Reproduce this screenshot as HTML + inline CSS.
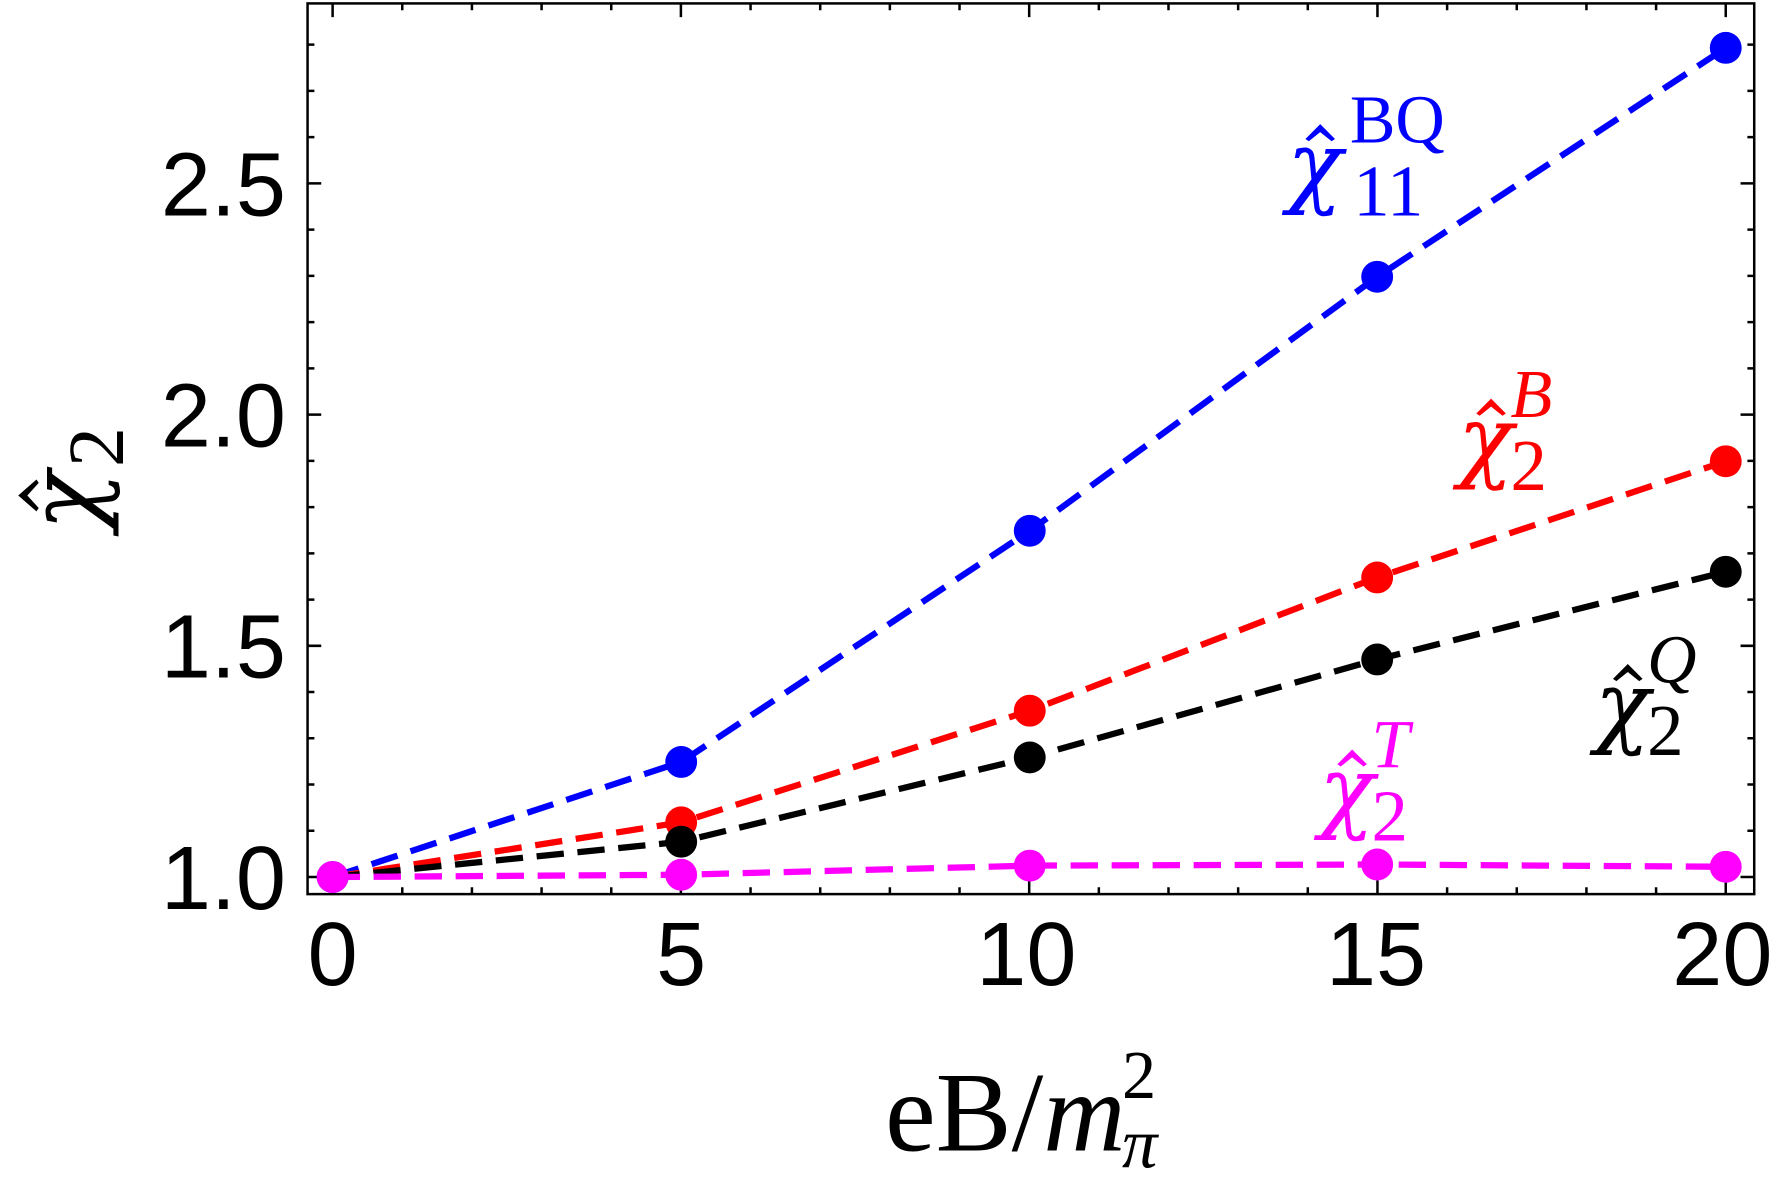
<!DOCTYPE html>
<html><head><meta charset="utf-8"><style>
html,body{margin:0;padding:0;background:#fff;overflow:hidden}
svg{display:block}
</style></head><body>
<svg width="1777" height="1180" viewBox="0 0 1560 1036" preserveAspectRatio="none" xmlns="http://www.w3.org/2000/svg">
<rect x="0" y="0" width="1560" height="1036" fill="#fff"/>
<g stroke="#000" stroke-width="2.2" fill="none">
<rect x="270" y="3" width="1270" height="782"/>
<path d="
M292,785v-12 M353.15,785v-6 M414.3,785v-6 M475.45,785v-6 M536.6,785v-6 M597.75,785v-12 M658.9,785v-6 M720.05,785v-6 M781.2,785v-6 M842.35,785v-6 M903.5,785v-12 M964.65,785v-6 M1025.8,785v-6 M1086.95,785v-6 M1148.1,785v-6 M1209.25,785v-12 M1270.4,785v-6 M1331.55,785v-6 M1392.7,785v-6 M1453.85,785v-6 M1515,785v-12
M292,3v12 M353.15,3v6 M414.3,3v6 M475.45,3v6 M536.6,3v6 M597.75,3v12 M658.9,3v6 M720.05,3v6 M781.2,3v6 M842.35,3v6 M903.5,3v12 M964.65,3v6 M1025.8,3v6 M1086.95,3v6 M1148.1,3v6 M1209.25,3v12 M1270.4,3v6 M1331.55,3v6 M1392.7,3v6 M1453.85,3v6 M1515,3v12
M270,770h12 M270,729.4h6 M270,688.8h6 M270,648.2h6 M270,607.6h6 M270,567h12 M270,526.4h6 M270,485.8h6 M270,445.2h6 M270,404.6h6 M270,364h12 M270,323.4h6 M270,282.8h6 M270,242.2h6 M270,201.6h6 M270,161h12 M270,120.4h6 M270,79.8h6 M270,39.2h6
M1540,770h-12 M1540,729.4h-6 M1540,688.8h-6 M1540,648.2h-6 M1540,607.6h-6 M1540,567h-12 M1540,526.4h-6 M1540,485.8h-6 M1540,445.2h-6 M1540,404.6h-6 M1540,364h-12 M1540,323.4h-6 M1540,282.8h-6 M1540,242.2h-6 M1540,201.6h-6 M1540,161h-12 M1540,120.4h-6 M1540,79.8h-6 M1540,39.2h-6"/>
</g>
<g font-family="Liberation Sans, sans-serif" font-size="79" fill="#000">
<g text-anchor="middle">
<text x="292" y="865">0</text><text x="598" y="865">5</text><text x="901" y="865">10</text><text x="1208" y="865">15</text><text x="1512" y="865">20</text>
</g>
<g text-anchor="end">
<text x="251" y="798">1.0</text><text x="251" y="595">1.5</text><text x="251" y="392">2.0</text><text x="251" y="189">2.5</text>
</g>
</g>
<g fill="none" stroke-width="5.5" stroke-dasharray="24,12">
<polyline stroke="#0000ff" points="292,770 598,669 904,466 1209,243 1515,42"/>
<polyline stroke="#ff0000" points="292,770 598,722 904,624 1209,507 1515,405"/>
<polyline stroke="#000" points="292,770 598,739 904,665 1209,579 1515,502"/>
<polyline stroke="#ff00ff" points="292,770 598,768 904,760 1209,759 1515,761"/>
</g>
<g fill="#0000ff"><circle cx="292" cy="770" r="14"/><circle cx="598" cy="669" r="14"/><circle cx="904" cy="466" r="14"/><circle cx="1209" cy="243" r="14"/><circle cx="1515" cy="42" r="14"/></g>
<g fill="#ff0000"><circle cx="598" cy="722" r="14"/><circle cx="904" cy="624" r="14"/><circle cx="1209" cy="507" r="14"/><circle cx="1515" cy="405" r="14"/></g>
<g fill="#000"><circle cx="598" cy="739" r="14"/><circle cx="904" cy="665" r="14"/><circle cx="1209" cy="579" r="14"/><circle cx="1515" cy="502" r="14"/></g>
<g fill="#ff00ff"><circle cx="292" cy="770" r="14"/><circle cx="598" cy="768" r="14"/><circle cx="904" cy="760" r="14"/><circle cx="1209" cy="759" r="14"/><circle cx="1515" cy="761" r="14"/></g>
<g font-family="Liberation Serif, serif">
<g transform="translate(1130,172)" fill="#0000ff">
<text x="0" y="0" font-size="80" font-family="DejaVu Serif, serif" font-style="italic">χ</text>
<path d="M16,-50 L29,-63 L42,-50 L39,-48 L29,-56 L19,-48Z"/>
<text x="58" y="17" font-size="64">11</text>
<text x="55" y="-47" font-size="60">BQ</text>
</g>
<g transform="translate(1280,413)" fill="#ff0000">
<text x="0" y="0" font-size="80" font-family="DejaVu Serif, serif" font-style="italic">χ</text>
<path d="M16,-50 L29,-63 L42,-50 L39,-48 L29,-56 L19,-48Z"/>
<text x="46" y="17" font-size="64">2</text>
<text x="46" y="-47" font-size="60" font-style="italic">B</text>
</g>
<g transform="translate(1400,646)" fill="#000">
<text x="0" y="0" font-size="80" font-family="DejaVu Serif, serif" font-style="italic">χ</text>
<path d="M16,-50 L29,-63 L42,-50 L39,-48 L29,-56 L19,-48Z"/>
<text x="46" y="17" font-size="64">2</text>
<text x="46" y="-47" font-size="60" font-style="italic">Q</text>
</g>
<g transform="translate(1158,721)" fill="#ff00ff">
<text x="0" y="0" font-size="80" font-family="DejaVu Serif, serif" font-style="italic">χ</text>
<path d="M16,-50 L29,-63 L42,-50 L39,-48 L29,-56 L19,-48Z"/>
<text x="46" y="17" font-size="64">2</text>
<text x="46" y="-47" font-size="60" font-style="italic">T</text>
</g>
<text x="777" y="1010" fill="#000" font-size="100">eB/<tspan font-style="italic">m</tspan></text>
<text x="985" y="1025" fill="#000" font-size="62" font-style="italic">π</text>
<text x="985" y="964" fill="#000" font-size="60">2</text>
<g transform="translate(86,466) rotate(-90)" fill="#000">
<text x="0" y="0" font-size="86" font-family="DejaVu Serif, serif" font-style="italic">χ</text>
<path d="M17,-54 L31,-70 L45,-54 L42,-52 L31,-62 L20,-52Z"/>
<text x="56" y="22" font-size="70">2</text>
</g>
</g>
</svg>
</body></html>
